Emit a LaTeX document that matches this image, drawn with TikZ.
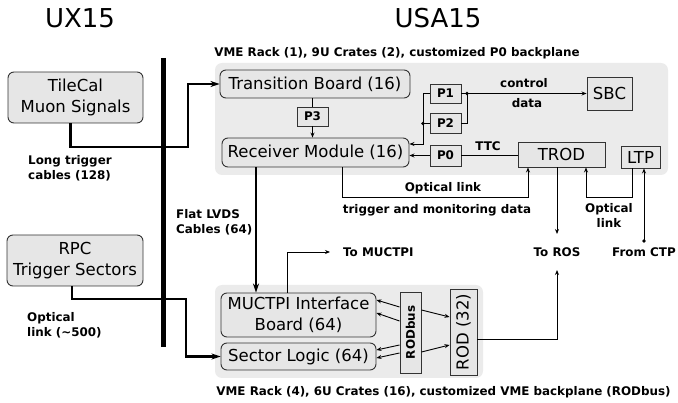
\documentclass[tikz,border=0pt]{standalone}
\usepackage{fontspec}
\setmainfont{DejaVu Sans}
\usetikzlibrary{arrows.meta}
\definecolor{panelc}{HTML}{EBEBEB}
\definecolor{boxc}{HTML}{E6E6E6}
\definecolor{edgec}{HTML}{333333}
\tikzset{
  mainf/.style={font=\fontsize{16.5}{20.5}\selectfont},
  labf/.style={font=\fontsize{11.9}{15}\selectfont\bfseries, inner sep=0pt},
  rbox/.style={draw=edgec, line width=0.9pt, fill=boxc, rounded corners=6pt, mainf, inner sep=0pt, align=center},
  sbox/.style={draw=edgec, line width=0.9pt, fill=boxc, mainf, inner sep=0pt, align=center},
  pbox/.style={draw=edgec, line width=0.9pt, fill=boxc, labf, inner sep=0pt},
  panel/.style={fill=panelc, draw=none, rounded corners=7pt},
  conn/.style={line width=0.9pt, -{Stealth[length=5pt,width=4pt]}},
  plain/.style={line width=0.9pt},
  thickc/.style={line width=2.6pt, -{Stealth[length=9pt,width=6pt]}},
}
\begin{document}
\begin{tikzpicture}[x=1pt,y=-1pt]
\useasboundingbox (0,0) rectangle (678,403);
% panels
\fill[panel] (215,63) rectangle (668,175);
\fill[panel] (215,285) rectangle (483,378);
% titles
\node[font=\fontsize{26}{30}\selectfont, inner sep=0pt] (ux) at (80,18) {UX15};
\node[font=\fontsize{26}{30}\selectfont, inner sep=0pt] (usa) at (438,18) {USA15};
\node[labf] (capU) at (397,53) {VME Rack (1), 9U Crates (2), customized P0 backplane};
\node[labf] (capL) at (443.5,392) {VME Rack (4), 6U Crates (16), customized VME backplane (RODbus)};
% sources
\node[rbox, minimum width=135pt, minimum height=51pt] (tile) at (75.5,97.5) {TileCal\\Muon Signals};
\node[rbox, minimum width=136pt, minimum height=51pt] (rpc) at (75,260.5) {RPC\\Trigger Sectors};
% upper crate
\node[rbox, minimum width=190pt, minimum height=28pt] (tb) at (315,84) {Transition Board (16)};
\node[pbox, minimum width=31pt, minimum height=19pt] (p3) at (312.5,116.5) {P3};
\node[rbox, minimum width=187pt, minimum height=29pt] (rm) at (315.5,152.5) {Receiver Module (16)};
\node[pbox, minimum width=31pt, minimum height=19pt] (p1) at (445.5,93.5) {P1};
\node[pbox, minimum width=31pt, minimum height=20pt] (p2) at (445.5,123.5) {P2};
\node[pbox, minimum width=31pt, minimum height=21pt] (p0) at (445.5,155.5) {P0};
\node[sbox, minimum width=45pt, minimum height=33pt] (sbc) at (609.5,93.5) {SBC};
\node[sbox, minimum width=87pt, minimum height=25pt] (trod) at (561.5,154.5) {TROD};
\node[sbox, minimum width=39pt, minimum height=22pt] (ltp) at (640.5,157) {LTP};
% lower crate
\node[rbox, minimum width=155pt, minimum height=44pt] (mib) at (298.5,315) {MUCTPI Interface\\Board (64)};
\node[rbox, minimum width=155pt, minimum height=27pt] (sl) at (298.5,356.5) {Sector Logic (64)};
\node[pbox, minimum width=21pt, minimum height=81pt] (rodbus) at (410.5,332.5) {};
\node[labf, rotate=90] (rodbustxt) at (rodbus.center) {RODbus};
\node[sbox, minimum width=27pt, minimum height=86pt] (rod) at (463.5,332) {};
\node[mainf, rotate=90, inner sep=0pt] (rodtxt) at (rod.center) {ROD (32)};
% bar
\coordinate (bt) at (163,58);
\coordinate (bb) at (163,347);
% thick connectors
\coordinate (k1) at (188,147);
\draw[thickc] ([xshift=-5pt]tile.south) |- (k1) |- (tb.west);
\coordinate (k2) at (186,299);
\draw[thickc] ([xshift=-3pt]rpc.south) |- (k2) |- (sl.west);
\draw[line width=5pt] (bt) -- (bb);
\coordinate (k3) at (256,0);
\draw[thickc] (rm.south -| k3) -- (mib.north -| k3);
% upper internal
\draw[plain] (tb.south -| p3) -- (p3.north);
\draw[conn] (p3.south) -- (rm.north -| p3);
\coordinate (ja) at (423,144);
\draw[conn] (p1.west) -| (ja) -- (ja -| rm.east);
\draw[plain] (p2.west) -- (p2.west -| ja);
\fill (p2.west -| ja) circle (1.8pt);
\coordinate (jb) at (467,93.5);
\draw[plain] (p2.east) -| (jb);
\draw[conn] (p1.east) -- (jb) -- (jb -| sbc.west);
\fill (jb) circle (1.8pt);
\draw[conn] (p0.west) -- (p0.west -| rm.east);
\draw[plain] (p0.east) -- (p0.east -| trod.west);
% optical trigger link
\coordinate (k5) at (342,197);
\coordinate (k4) at (528,197);
\draw[conn] (k5 |- rm.south) -- (k5) -- (k4) -- (k4 |- trod.south);
% to ROS
\coordinate (rosa) at (557,234);
\coordinate (rosb) at (557,270);
\draw[conn] (trod.south -| rosa) -- (rosa);
\draw[conn] ([yshift=-7pt]rod.east) -| (rosb);
% LTP optical
\coordinate (k7) at (632,197);
\coordinate (k8) at (586,197);
\draw[conn] (ltp.south -| k7) -- (k7) -- (k8) -- (k8 |- trod.south);
\coordinate (ctp) at (644,241);
\draw[conn] (ctp) -- (ctp |- ltp.south);
\fill (ctp) circle (1.8pt);
% to MUCTPI
\coordinate (mu) at (330,252);
\draw[conn] (mib.north -| 287,0) |- (mu);
% RODbus arrows
\draw[conn] (rodbus.west |- 0,307) -- (mib.east |- 0,300);
\draw[conn] (rodbus.west |- 0,321) -- (mib.east |- 0,313);
\draw[conn] (rodbus.west |- 0,345) -- (sl.east |- 0,350);
\draw[conn] (rodbus.west |- 0,353) -- (sl.east |- 0,358);
\draw[conn] (rodbus.east |- 0,310) -- (rod.west |- 0,317);
\draw[conn] (rodbus.east |- 0,352) -- (rod.west |- 0,345);
% labels
\node[labf, align=left, anchor=west] (l1) at (28,168) {Long trigger\\cables (128)};
\node[labf, align=left, anchor=west] (l2) at (176,222) {Flat LVDS\\Cables (64)};
\node[labf, align=left, anchor=west] (l3) at (27,325) {Optical\\link (\textasciitilde500)};
\node[labf] (l4) at (443,188) {Optical link};
\node[labf] (l5) at (437,210) {trigger and monitoring data};
\node[labf] (l6) at (524,83) {control};
\node[labf] (l7) at (527,103) {data};
\node[labf] (l8) at (488,146) {TTC};
\node[labf, align=center] (l9) at (609,215) {Optical\\link};
\node[labf] (ros) at (557,252) {To ROS};
\node[labf] (fctp) at (644,252) {From CTP};
\node[labf, anchor=west] (tmu) at (343,252) {To MUCTPI};
\end{tikzpicture}
\end{document}
